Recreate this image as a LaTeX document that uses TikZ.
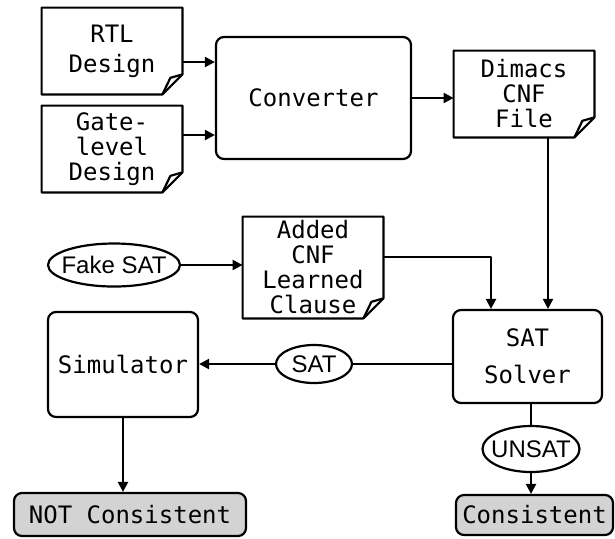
\documentclass[tikz,border=0pt]{standalone}
\usepackage{fontspec}
\setmonofont{DejaVu Sans Mono}
\setsansfont{Liberation Sans}
\usetikzlibrary{arrows.meta,shapes.geometric}
\definecolor{EndClr}{RGB}{211,211,211}

% outline of a document box with a folded corner
\newcommand{\DocOutline}[1]{%
  \draw[ln] (#1.north west) -- (#1.north east) -- ([yshift=10pt]#1.south east)
    -- ([xshift=-10pt]#1.south east) -- (#1.south west) -- cycle;
  \draw[ln] ([yshift=10pt]#1.south east) -- ([xshift=-6pt,yshift=8.3pt]#1.south east)
    -- ([xshift=-10pt]#1.south east);}

\tikzset{
  ln/.style={line width=1.1pt,line join=round},
  txt/.style={font=\ttfamily\fontsize{12}{12.5}\selectfont,align=center,inner sep=0pt},
  box/.style={txt,draw,ln,rounded corners=4pt},
  doc/.style={txt,minimum width=70pt,minimum height=43pt},
  oval/.style={draw,ln,ellipse,inner sep=0pt},
  ovaltxt/.style={font=\sffamily\fontsize{12}{13}\selectfont,inner sep=0pt},
  arr/.style={ln,-{Triangle[length=5pt,width=5pt]}}
}

\begin{document}
\begin{tikzpicture}[x=0.5pt,y=-0.5pt]
\useasboundingbox (0,0) rectangle (615,538);

\node[doc] (rtl) at (112,51) {RTL\\[2.5pt]Design};
\node[doc] (gate) at (112,149) {Gate-\\level\\Design};
\node[box,minimum width=97.5pt,minimum height=61pt] (conv) at (313.5,98) {Converter};
\node[doc] (dimacs) at (524,94) {Dimacs\\CNF\\File};
\node[doc,minimum height=50.5pt] (added) at (313,267.5) {Added\\CNF\\Learned\\Clause};
\DocOutline{rtl}
\DocOutline{gate}
\DocOutline{dimacs}
\DocOutline{added}

\node[oval,minimum width=66pt,minimum height=21.5pt] (fake) at (114,265) {};
\node[ovaltxt] (fakelbl) at (fake) {Fake SAT};

\node[box,minimum width=74.5pt,minimum height=46.5pt] (solver) at (527.5,356.5) {SAT\\[6pt]Solver};
\node[box,minimum width=75pt,minimum height=52.5pt] (sim) at (123,364.5) {Simulator};

\node[oval,minimum width=38pt,minimum height=19pt] (sat) at (314,364) {};
\node[ovaltxt] (satlbl) at (sat) {SAT};
\node[oval,minimum width=48.5pt,minimum height=23pt] (unsat) at (531,449) {};
\node[ovaltxt] (unsatlbl) at (unsat) {UNSAT};

\node[box,fill=EndClr,minimum width=116pt,minimum height=21.5pt] (notc) at (130,514.5) {NOT Consistent};
\node[box,fill=EndClr,minimum width=78.5pt,minimum height=20pt] (cons) at (534.5,515) {Consistent};

\coordinate (r1) at ([yshift=-5.5pt]rtl.east);
\coordinate (g1) at ([yshift=7pt]gate.east);
\coordinate (d1) at ([xshift=12pt]dimacs.south);
\coordinate (a1) at ([yshift=5.25pt]added.east);
\coordinate (s1) at ([xshift=-18.25pt]solver.north);

\draw[arr] (r1) -- (r1 -| conv.west);
\draw[arr] (g1) -- (g1 -| conv.west);
\draw[arr] (conv.east) -- (conv.east -| dimacs.west);
\draw[arr] (d1) -- (d1 |- solver.north);
\draw[arr] (fake.east) -- (fake.east -| added.west);
\draw[arr] (a1) -| (s1);
\draw[ln] (sat.east) -- (sat.east -| solver.west);
\draw[arr] (sat.west) -- (sat.west -| sim.east);
\draw[arr] (sim.south) -- (sim.south |- notc.north);
\draw[ln] (solver.south -| unsat.north) -- (unsat.north);
\draw[arr] (unsat.south) -- (unsat.south |- cons.north);

\end{tikzpicture}
\end{document}
